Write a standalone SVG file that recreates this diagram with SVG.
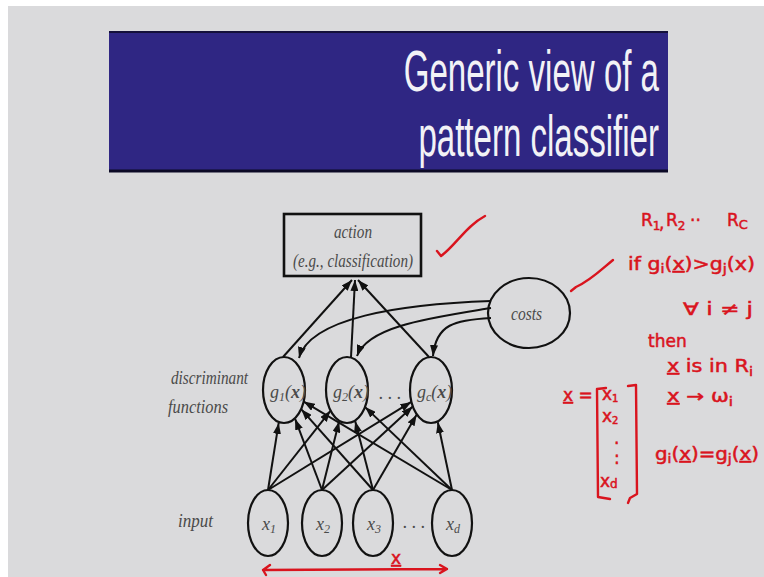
<svg xmlns="http://www.w3.org/2000/svg" width="764" height="577" viewBox="0 0 764 577">
  <defs>
    <marker id="head" markerUnits="userSpaceOnUse" markerWidth="11" markerHeight="8" refX="11" refY="4" orient="auto">
      <path d="M0,0 L11,4 L0,8 z" fill="#111"/>
    </marker>
    <style>
      .node { fill: none; stroke: #111; stroke-width: 2.2; }
      .lbl { font-family: "Liberation Serif", "Times New Roman", serif; font-style: italic; fill: #4a4a4a; font-size: 18px; }
      .edge { fill: none; stroke: #111; stroke-width: 2; marker-end: url(#head); }
      .ink { fill: none; stroke: #d9141e; stroke-width: 2.4; stroke-linecap: round; stroke-linejoin: round; }
      .hand { font-family: "DejaVu Sans", "Liberation Sans", sans-serif; fill: #d9141e; stroke: #d9141e; stroke-width: 0.5; font-size: 17px; }
      .ul { text-decoration: underline; }
      .ttl { font-family: "Liberation Sans", Arial, sans-serif; font-size: 57px; fill: #f2f2f6; text-anchor: end; }
    </style>
  </defs>

  <!-- slide background -->
  <rect x="0" y="0" width="764" height="577" fill="#ffffff"/>
  <rect x="8" y="6" width="756" height="571" fill="#dadadc"/>

  <!-- title banner, condensed type -->
  <g id="title">
    <rect x="109" y="31" width="559" height="141" fill="#2f2683"/>
    <line x1="109" y1="32" x2="668" y2="32" stroke="#14103a" stroke-width="2"/>
    <line x1="109" y1="171" x2="668" y2="171" stroke="#0c0a26" stroke-width="3"/>
    <g transform="translate(659,91) scale(0.58,1)">
      <text class="ttl" x="0" y="0">Generic view of a</text>
    </g>
    <g transform="translate(659,156) scale(0.58,1)">
      <text class="ttl" x="0" y="0">pattern classifier</text>
    </g>
  </g>

  <!-- layer captions -->
  <g id="captions">
    <text class="lbl" x="171" y="384" textLength="77" lengthAdjust="spacingAndGlyphs">discriminant</text>
    <text class="lbl" x="168" y="413" textLength="60" lengthAdjust="spacingAndGlyphs">functions</text>
    <text class="lbl" x="178" y="527" textLength="35" lengthAdjust="spacingAndGlyphs">input</text>
  </g>

  <!-- connectors -->
  <g id="connectors">
    <!-- discriminants to action -->
    <line class="edge" x1="283" y1="357" x2="352" y2="280"/>
    <line class="edge" x1="351" y1="357" x2="355" y2="280"/>
    <line class="edge" x1="429" y1="357" x2="358" y2="280"/>
    <!-- costs to discriminants -->
    <path class="edge" d="M491,301 C400,304 310,318 299,358"/>
    <path class="edge" d="M491,308 C430,318 368,326 357,356"/>
    <path class="edge" d="M491,318 C455,320 436,324 433,356"/>
    <!-- inputs to discriminants -->
    <line class="edge" x1="268" y1="490" x2="278.7" y2="422.9"/>
    <line class="edge" x1="268" y1="490" x2="330.4" y2="410.8"/>
    <line class="edge" x1="268" y1="490" x2="411.3" y2="401.9"/>
    <line class="edge" x1="322" y1="490" x2="295.1" y2="418.9"/>
    <line class="edge" x1="322" y1="490" x2="339.1" y2="421.5"/>
    <line class="edge" x1="322" y1="490" x2="412.7" y2="406.6"/>
    <line class="edge" x1="373" y1="490" x2="301.3" y2="409.3"/>
    <line class="edge" x1="373" y1="490" x2="355.2" y2="421.3"/>
    <line class="edge" x1="373" y1="490" x2="416.6" y2="414.7"/>
    <line class="edge" x1="452" y1="490" x2="303.7" y2="401.6"/>
    <line class="edge" x1="452" y1="490" x2="365.1" y2="407.1"/>
    <line class="edge" x1="452" y1="490" x2="437.8" y2="422.2"/>
  </g>

  <!-- action box -->
  <g id="action">
    <rect x="284" y="214" width="137" height="62" fill="none" stroke="#111" stroke-width="2.6"/>
    <text class="lbl" x="334" y="238" textLength="38" lengthAdjust="spacingAndGlyphs">action</text>
    <text class="lbl" x="293" y="267" textLength="120" lengthAdjust="spacingAndGlyphs">(e.g., classification)</text>
  </g>

  <!-- costs -->
  <g id="costs">
    <ellipse class="node" cx="529" cy="313" rx="41" ry="35"/>
    <text class="lbl" x="511" y="320" textLength="31" lengthAdjust="spacingAndGlyphs">costs</text>
  </g>

  <!-- discriminant functions -->
  <g id="g1">
    <ellipse class="node" cx="284" cy="390" rx="21" ry="33"/>
    <text class="lbl" x="270" y="398">g<tspan font-size="12" dy="3">1</tspan><tspan dy="-3">(</tspan><tspan font-weight="bold">x</tspan>)</text>
  </g>
  <g id="g2">
    <ellipse class="node" cx="347" cy="390" rx="21" ry="33"/>
    <text class="lbl" x="333" y="398">g<tspan font-size="12" dy="3">2</tspan><tspan dy="-3">(</tspan><tspan font-weight="bold">x</tspan>)</text>
  </g>
  <text class="lbl" x="379" y="399">. . .</text>
  <g id="gc">
    <ellipse class="node" cx="431" cy="390" rx="21" ry="33"/>
    <text class="lbl" x="417" y="398">g<tspan font-size="12" dy="3">c</tspan><tspan dy="-3">(</tspan><tspan font-weight="bold">x</tspan>)</text>
  </g>

  <!-- input features -->
  <g id="x1">
    <ellipse class="node" cx="268" cy="523" rx="20" ry="33"/>
    <text class="lbl" x="262" y="530">x<tspan font-size="12" dy="3">1</tspan></text>
  </g>
  <g id="x2">
    <ellipse class="node" cx="322" cy="523" rx="20" ry="33"/>
    <text class="lbl" x="316" y="530">x<tspan font-size="12" dy="3">2</tspan></text>
  </g>
  <g id="x3">
    <ellipse class="node" cx="373" cy="523" rx="20" ry="33"/>
    <text class="lbl" x="367" y="530">x<tspan font-size="12" dy="3">3</tspan></text>
  </g>
  <text class="lbl" x="403" y="528">. . .</text>
  <g id="xd">
    <ellipse class="node" cx="452" cy="523" rx="20" ry="33"/>
    <text class="lbl" x="446" y="530">x<tspan font-size="12" dy="3">d</tspan></text>
  </g>

  <!-- handwritten notes -->
  <g id="notes">
    <path class="ink" d="M437,251 L441,256 C455,246 466,226 485,216"/>
    <path class="ink" d="M571,291 L576,287 C590,281 602,269 613,260"/>

    <text class="hand" x="641" y="226">R<tspan font-size="12" dy="4">1</tspan></text>
    <text class="hand" x="659" y="229">,</text>
    <text class="hand" x="666" y="226">R<tspan font-size="12" dy="4">2</tspan></text>
    <text class="hand" x="690" y="226">··</text>
    <text class="hand" x="727" y="226">R<tspan font-size="13" dy="3">C</tspan></text>

    <text class="hand" x="628" y="270" textLength="127" lengthAdjust="spacingAndGlyphs">if g<tspan font-size="12" dy="3">i</tspan><tspan dy="-3">(</tspan><tspan class="ul">x</tspan>)&gt;g<tspan font-size="12" dy="3">j</tspan><tspan dy="-3">(x)</tspan></text>
    <text class="hand" x="683" y="315" textLength="70" lengthAdjust="spacingAndGlyphs">∀ i ≠ j</text>

    <text class="hand" x="648" y="347" font-size="14">then</text>
    <text class="hand" x="667" y="372" textLength="86" lengthAdjust="spacingAndGlyphs"><tspan class="ul">x</tspan> is in R<tspan font-size="12" dy="4">i</tspan></text>
    <text class="hand" x="667" y="402" textLength="66" lengthAdjust="spacingAndGlyphs"><tspan class="ul">x</tspan> → ω<tspan font-size="12" dy="4">i</tspan></text>
    <text class="hand" x="655" y="460" textLength="104" lengthAdjust="spacingAndGlyphs">g<tspan font-size="12" dy="3">i</tspan><tspan dy="-3">(</tspan><tspan class="ul">x</tspan>)=g<tspan font-size="12" dy="3">j</tspan><tspan dy="-3">(</tspan><tspan class="ul">x</tspan>)</text>

    <text class="hand" x="563" y="401"><tspan class="ul">x</tspan> =</text>
    <path class="ink" d="M606,388 L597,389 L598,497 L610,499"/>
    <path class="ink" d="M628,386 L636,385 L637,494 L630,498 L628,503"/>
    <text class="hand" x="602" y="400" font-size="15">x<tspan font-size="10" dy="2">1</tspan></text>
    <text class="hand" x="602" y="422" font-size="15">x<tspan font-size="10" dy="2">2</tspan></text>
    <text class="hand" x="614" y="444">.</text>
    <text class="hand" x="614" y="464">:</text>
    <text class="hand" x="600" y="487">x<tspan font-size="12" dy="1">d</tspan></text>

    <path class="ink" d="M263,570 L447,569 M270,565 L263,570 L266,575 M440,565 L447,569 L440,573"/>
    <text class="hand" x="391" y="564"><tspan class="ul">x</tspan></text>
  </g>
</svg>
